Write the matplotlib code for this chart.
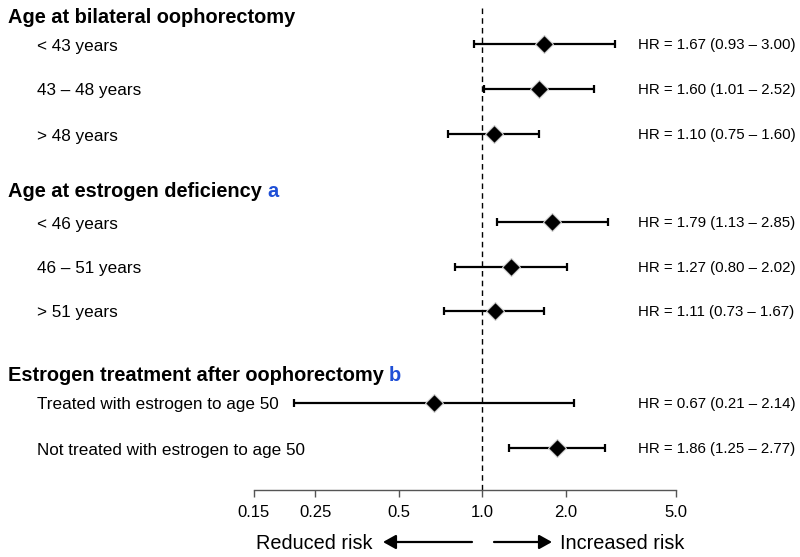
import matplotlib
matplotlib.use("Agg")
import matplotlib.pyplot as plt
import matplotlib.transforms as mtransforms
import numpy as np

plt.rcParams['font.family'] = ['Liberation Sans', 'DejaVu Sans']

# ---- data ----
group_titles = ["Age at bilateral oophorectomy",
                "Age at estrogen deficiency",
                "Estrogen treatment after oophorectomy"]
group_notes = ["", "a", "b"]
row_labels = ["< 43 years", "43 – 48 years", "> 48 years",
              "< 46 years", "46 – 51 years", "> 51 years",
              "Treated with estrogen to age 50",
              "Not treated with estrogen to age 50"]
hr = np.array([1.67, 1.60, 1.10, 1.79, 1.27, 1.11, 0.67, 1.86])
lo = np.array([0.93, 1.01, 0.75, 1.13, 0.80, 0.73, 0.21, 1.25])
hi = np.array([3.00, 2.52, 1.60, 2.85, 2.02, 1.67, 2.14, 2.77])
tick_vals = [0.15, 0.25, 0.5, 1.0, 2.0, 5.0]
tick_labels = ["0.15", "0.25", "0.5", "1.0", "2.0", "5.0"]

# ---- layout (pixel rows, top-down) ----
W, H = 800, 557
header_base = [23, 197, 381]
row_y = np.array([44, 89, 134, 222, 267, 311, 403, 448])
axis_y = 490

fig = plt.figure(figsize=(W / 100, H / 100), dpi=100)
ax = fig.add_axes([254 / W, 1 - axis_y / H, 422 / W, axis_y / H])
ax.set_xscale('log')
ax.set_xlim(0.15, 5.0)
ax.set_ylim(axis_y, 0)
for s in ['top', 'left', 'right']:
    ax.spines[s].set_visible(False)
ax.spines['bottom'].set_color('#555555')
ax.spines['bottom'].set_linewidth(1.0)
ax.set_yticks([])
ax.xaxis.set_minor_locator(matplotlib.ticker.NullLocator())
ax.set_xticks(tick_vals)
ax.set_xticklabels(tick_labels)
ax.tick_params(axis='x', length=5, width=1.0, color='#555555', pad=6,
               labelsize=12, labelcolor='black')
ax.patch.set_alpha(0)

# reference line
ax.plot([1.0, 1.0], [8, axis_y], ls=(0, (4, 3)), lw=1.0, color='black', zorder=1)

# error bars and markers
ax.errorbar(hr, row_y, xerr=[hr - lo, hi - hr], fmt='none', ecolor='black',
            elinewidth=1.6, capsize=3, capthick=1.6, zorder=2)
ax.plot(hr, row_y, ls='none', marker='D', markersize=9.5, mfc='black',
        mec='#cfcfcf', mew=0.8, zorder=3)

trans = mtransforms.blended_transform_factory(fig.transFigure, ax.transData)

# headers
header_texts = []
for t, y in zip(group_titles, header_base):
    header_texts.append(ax.text(8 / W, y, t, transform=trans, fontsize=14.4,
                                fontweight='bold', va='baseline', ha='left'))

# row labels and HR text
for lab, y, h, l, u in zip(row_labels, row_y, hr, lo, hi):
    ax.text(37 / W, y + 6.5, lab, transform=trans, fontsize=12.3,
            va='baseline', ha='left')
    ax.text(638 / W, y + 5.2, f"HR = {h:.2f} ({l:.2f} – {u:.2f})", transform=trans,
            fontsize=10.8, va='baseline', ha='left')

# blue notes
fig.canvas.draw()
renderer = fig.canvas.get_renderer()
for txt, note, y in zip(header_texts, group_notes, header_base):
    if note:
        bb = txt.get_window_extent(renderer)
        ax.text((bb.x1 + 5) / W, y, note, transform=trans, fontsize=14.4,
                fontweight='bold', color='#1f4fd6', va='baseline', ha='left')

# arrows and risk labels
arr_y = 542
fig_tr = fig.transFigure
astyle = '-|>,head_length=0.77,head_width=0.43'
ax.annotate("", xy=(383 / W, 1 - arr_y / H), xytext=(472 / W, 1 - arr_y / H),
            xycoords=fig_tr, textcoords=fig_tr,
            arrowprops=dict(arrowstyle=astyle, color='black', lw=1.6,
                            shrinkA=0, shrinkB=0))
ax.annotate("", xy=(552 / W, 1 - arr_y / H), xytext=(494 / W, 1 - arr_y / H),
            xycoords=fig_tr, textcoords=fig_tr,
            arrowprops=dict(arrowstyle=astyle, color='black', lw=1.6,
                            shrinkA=0, shrinkB=0))
fig.text(373 / W, 1 - 549 / H, "Reduced risk", fontsize=14.3, ha='right', va='baseline')
fig.text(560 / W, 1 - 549 / H, "Increased risk", fontsize=14.3, ha='left', va='baseline')

fig.savefig("out.png", dpi=100)
